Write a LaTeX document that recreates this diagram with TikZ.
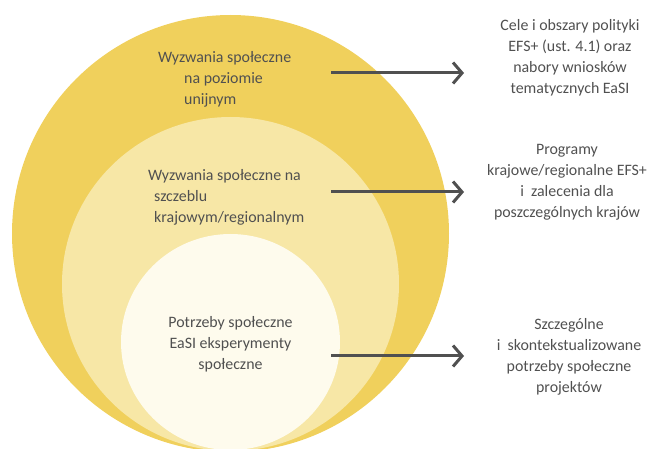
\documentclass[tikz,border=0pt]{standalone}
\usepackage{fontspec}
\setmainfont{Carlito}
\usepackage{tikz}
\usetikzlibrary{arrows.meta,shapes.geometric,positioning}
\definecolor{euyellow}{RGB}{240,208,92}
\definecolor{natyellow}{RGB}{247,231,166}
\definecolor{locyellow}{RGB}{254,251,237}
\definecolor{txtgray}{RGB}{80,80,80}

\begin{document}
\begin{tikzpicture}[
  x=1pt, y=-1pt,
  every node/.style={font=\fontsize{15.9}{21}\selectfont, text=txtgray},
  level/.style={ellipse, draw=none, inner sep=0pt},
  lbl/.style={inner sep=0pt, align=left},
  note/.style={inner sep=0pt, align=center},
  arrow/.style={-{Straight Barb[length=9pt, width=21pt]}, line width=3pt, txtgray},
]
\useasboundingbox (0,0) rectangle (649,449);

%% Nested levels
\node[level, fill=euyellow, minimum width=437pt, minimum height=437pt] (eu) at (230.5,233.5) {};
\node[level, fill=natyellow, minimum width=337pt, minimum height=334pt] (nat) at (230.5,284) {};
\node[level, fill=locyellow, minimum width=219pt, minimum height=216pt] (loc) at (230.5,342) {};

%% Level labels
\node[lbl, anchor=west] (eulbl) at (158,79)
  {Wyzwania społeczne\\\hspace*{26pt}na poziomie\\\hspace*{26pt}unijnym};
\node[lbl, anchor=west] (natlbl) at (148,197)
  {Wyzwania społeczne na\\\hspace*{6pt}szczeblu\\\hspace*{6pt}krajowym/regionalnym};
\node[note] (loclbl) at (230.5,344)
  {Potrzeby społeczne\\EaSI eksperymenty\\społeczne};

%% Outcomes
\node[note] (eunote) at (570,57.5)
  {Cele i obszary polityki\\EFS+ (ust. 4.1) oraz\\nabory wniosków\\tematycznych EaSI};
\node[note] (natnote) at (567,182.5)
  {Programy\\krajowe/regionalne EFS+\\i\ \ zalecenia dla\\poszczególnych krajów};
\node[note] (locnote) at (569,357)
  {Szczególne\\i\ \ skontekstualizowane\\potrzeby społeczne\\projektów};

%% Arrows
\coordinate (eufrom) at (331,73);
\coordinate (eutip) at (464,73);
\coordinate (natfrom) at (331,192);
\coordinate (nattip) at (464,192);
\coordinate (locfrom) at (331,356);
\coordinate (loctip) at (464,356);
\draw[arrow] (eufrom) -- (eutip);
\draw[arrow] (natfrom) -- (nattip);
\draw[arrow] (locfrom) -- (loctip);

\end{tikzpicture}
\end{document}
